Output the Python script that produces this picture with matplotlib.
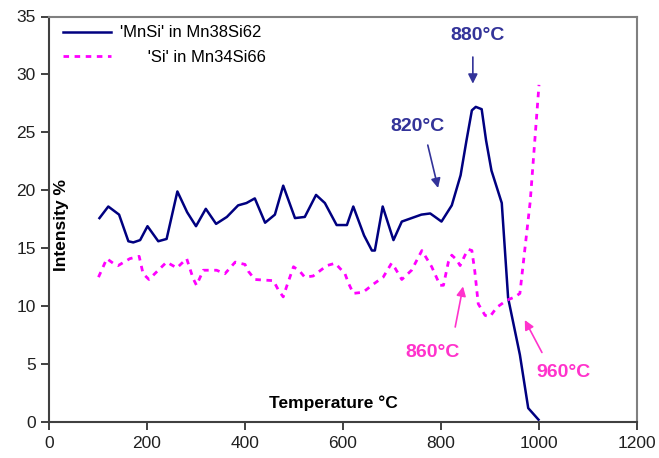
import matplotlib
matplotlib.use("Agg")
import matplotlib.pyplot as plt

plt.rcParams['font.family'] = ['Liberation Sans', 'DejaVu Sans']

# ---- data ----
mnsi_T = [103, 121, 143, 162, 172, 186, 201, 223, 240, 262, 282, 300, 320, 341,
          363, 386, 403, 420, 441, 461, 478, 502, 522, 545, 563, 587, 608, 621,
          643, 659, 665, 681, 703, 720, 740, 760, 778, 788, 801, 822, 840, 852,
          863, 871, 883, 892, 903, 924, 937, 961, 978, 999]
mnsi_I = [17.6, 18.6, 17.9, 15.6, 15.5, 15.7, 16.9, 15.6, 15.8, 19.9, 18.1, 16.9,
          18.4, 17.1, 17.7, 18.7, 18.9, 19.3, 17.2, 17.9, 20.4, 17.6, 17.7, 19.6,
          18.9, 17.0, 17.0, 18.6, 16.1, 14.8, 14.8, 18.6, 15.7, 17.3, 17.6, 17.9,
          18.0, 17.7, 17.3, 18.7, 21.3, 24.3, 26.9, 27.2, 27.0, 24.3, 21.7, 18.9,
          10.7, 5.8, 1.2, 0.2]

si_T = [101, 118, 131, 141, 165, 184, 192, 204, 223, 240, 261, 281, 294, 301,
        315, 342, 359, 380, 400, 407, 420, 458, 468, 478, 485, 499, 512, 522,
        539, 567, 584, 604, 611, 621, 641, 662, 682, 699, 706, 720, 740, 761,
        781, 798, 805, 815, 822, 832, 839, 849, 856, 863, 869, 876, 890, 900,
        914, 934, 951, 961, 982, 1000]
si_I = [12.5, 14.1, 13.7, 13.5, 14.1, 14.3, 12.8, 12.3, 13.1, 13.8, 13.3, 14.1,
        12.4, 11.8, 13.1, 13.1, 12.8, 13.8, 13.6, 13.0, 12.3, 12.2, 11.4, 10.8,
        11.7, 13.4, 13.0, 12.5, 12.6, 13.5, 13.7, 12.8, 12.0, 11.1, 11.2, 11.9,
        12.5, 13.7, 13.3, 12.3, 13.1, 14.8, 13.4, 11.8, 11.8, 13.8, 14.4, 14.0,
        13.5, 14.4, 14.9, 14.8, 13.0, 10.2, 9.2, 9.1, 9.9, 10.5, 10.8, 11.1,
        19.0, 29.1]

series_labels = ["'MnSi' in Mn38Si62", "      'Si' in Mn34Si66"]
x_ticks = [0, 200, 400, 600, 800, 1000, 1200]
y_ticks = [0, 5, 10, 15, 20, 25, 30, 35]

blue_ann = [("880°C", 875, 33.4, 865, 31.5, 865, 29.2),
            ("820°C", 753, 25.5, 773, 23.9, 794, 20.2)]
pink_ann = [("860°C", 782, 6.0, 829, 8.2, 845, 11.7),
            ("960°C", 1049, 4.3, 1006, 6.0, 971, 8.8)]

# ---- figure ----
fig = plt.figure(figsize=(6.59, 4.58), dpi=100)
ax = fig.add_axes([49/659, 36/458, 588/659, 405.5/458])

ax.plot(mnsi_T, mnsi_I, color='#000080', lw=1.8, label=series_labels[0])
ax.plot(si_T, si_I, color='#ff00ff', lw=2.0, ls=(0, (2, 2)), label=series_labels[1])

ax.set_xlim(0, 1200)
ax.set_ylim(0, 35)
ax.set_xticks(x_ticks)
ax.set_yticks(y_ticks)
ax.tick_params(direction='out', length=6, width=1.2, labelsize=12.5, colors='#202020',
               labelcolor='#202020')
ax.tick_params(axis='x', pad=4)

for s in ['left', 'bottom']:
    ax.spines[s].set_color('#404040')
    ax.spines[s].set_linewidth(1.5)
for s in ['top', 'right']:
    ax.spines[s].set_color('#808080')
    ax.spines[s].set_linewidth(1.5)

ax.set_xlabel('Temperature °C', fontsize=12.5, fontweight='bold')
ax.xaxis.set_label_coords(0.483, 0.047)
ax.xaxis.label.set_va('center')
ax.set_ylabel('Intensity %', fontsize=12.5, fontweight='bold')
ax.yaxis.set_label_coords(0.022, 0.486)
ax.yaxis.label.set_va('center')

for txt, tx, ty, x0, y0, x1, y1 in blue_ann:
    ax.text(tx, ty, txt, color='#333399', fontsize=14, fontweight='bold',
            ha='center', va='center')
    ax.annotate('', xy=(x1, y1), xytext=(x0, y0),
                arrowprops=dict(arrowstyle='-|>', color='#333399', lw=1.2,
                                mutation_scale=14, shrinkA=0, shrinkB=0))
for txt, tx, ty, x0, y0, x1, y1 in pink_ann:
    ax.text(tx, ty, txt, color='#ff33cc', fontsize=14, fontweight='bold',
            ha='center', va='center')
    ax.annotate('', xy=(x1, y1), xytext=(x0, y0),
                arrowprops=dict(arrowstyle='-|>', color='#ff33cc', lw=1.2,
                                mutation_scale=14, shrinkA=0, shrinkB=0))

ax.legend(loc='upper left', bbox_to_anchor=(0.024, 0.978), frameon=False,
          fontsize=12, borderpad=0, borderaxespad=0, handlelength=2.9,
          handletextpad=0.5, labelspacing=0.55)

fig.savefig('out.png', dpi=100)
